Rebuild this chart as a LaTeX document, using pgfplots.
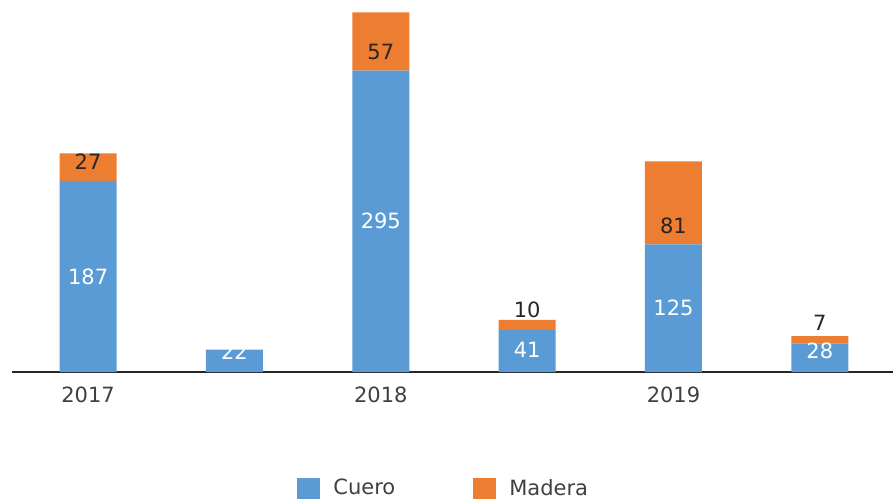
\documentclass[border=0pt]{standalone}
\usepackage{pgfplots}
\pgfplotsset{compat=1.18}
\usepackage{pgfplotstable}
\usepackage{fontspec}
\setmainfont{DejaVu Sans}

\definecolor{cuero}{HTML}{5B9BD5}
\definecolor{madera}{HTML}{ED7D31}
\definecolor{txt}{HTML}{404040}

% x, value, label height (data units), label
\pgfplotstableread{
x  y    ly     lbl
0  187  93.5   187
1  22   20     22
2  295  147.5  295
3  41   21.5   41
4  125  62.6   125
5  28   20.5   28
}\cuero

\pgfplotstableread{
x  y    ly     lbl
0  27   206    27
1  0    0      {}
2  57   313    57
3  10   60.7   10
4  81   143    81
5  7    48     7
}\madera

\pgfplotsset{
    base/.style={
        scale only axis,
        width=881pt,
        height=372pt,
        xmin=-0.52, xmax=5.5,
        ymin=0, ymax=364,
    },
}

\begin{document}
\begin{tikzpicture}
\useasboundingbox (-12pt,-131pt) rectangle (881pt,372pt);
\begin{axis}[
    base,
    ybar stacked,
    bar width=57pt,
    axis y line=none,
    axis x line=bottom,
    axis line style={-, line width=1.8pt, color=black!85},
    xtick={0,2,4},
    xticklabels={2017,2018,2019},
    major tick length=0pt,
    xticklabel style={font=\fontsize{21}{25}\selectfont, text=txt, yshift=-11pt},
    legend style={at={(0.49,0)}, anchor=center, yshift=-116pt,
        draw=none, fill=none, legend columns=2,
        font=\fontsize{21}{25}\selectfont, text=txt,
        /tikz/every odd column/.append style={column sep=11pt},
        /tikz/every even column/.append style={column sep=76pt}},
    legend image code/.code={\fill[#1] (0pt,-11pt) rectangle (23pt,10pt);},
]
\addplot[fill=cuero, draw=none] table[x=x, y=y] {\cuero};
\addplot[fill=madera, draw=none] table[x=x, y=y] {\madera};
\legend{Cuero, Madera}
\end{axis}
% value labels
\begin{axis}[
    base,
    hide axis,
    point meta=explicit symbolic,
    nodes near coords={\pgfplotspointmeta},
    every node near coord/.append style={anchor=center,
        font=\fontsize{21}{25}\selectfont},
]
\addplot[draw=none, mark=none,
    every node near coord/.append style={text=white}]
    table[x=x, y=ly, meta=lbl] {\cuero};
\addplot[draw=none, mark=none,
    every node near coord/.append style={text=black!85}]
    table[x=x, y=ly, meta=lbl] {\madera};
\end{axis}
\end{tikzpicture}
\end{document}
